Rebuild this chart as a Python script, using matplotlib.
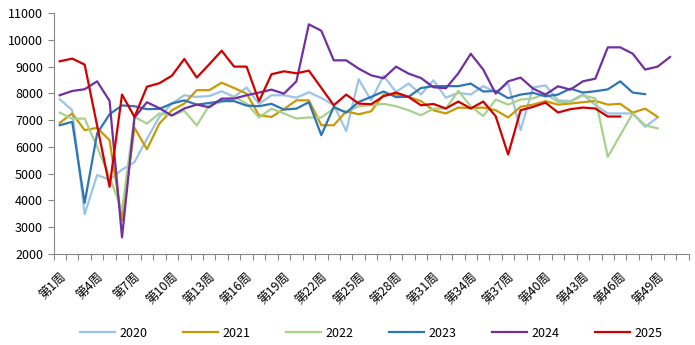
import numpy as np
import matplotlib
matplotlib.use("Agg")
import matplotlib.pyplot as plt

plt.rcParams['font.family'] = ['Noto Sans CJK SC', 'DejaVu Sans']

weeks = ["第%d周" % i for i in range(1, 52)]

y2020 = [7780, 7370, 3480, 4950, 4780, 5150, 5430, 6300, 7120, 7620,
         7930, 7870, 7900, 8080, 7870, 8220, 7600, 7930, 7930, 7840,
         8040, 7830, 7560, 6590, 8530, 7740, 8660, 8050, 8370, 7960,
         8490, 7840, 8020, 7960, 8270, 8050, 8370, 6630, 8220, 8300,
         7740, 7710, 7960, 7560, 7250, 7250, 7250, 6750, 7100]
y2021 = [6900, 7250, 6625, 6710, 6250, 3250, 6715, 5910, 6870, 7370,
         7620, 8120, 8120, 8400, 8200, 7990, 7180, 7120, 7410, 7740,
         7740, 6810, 6810, 7330, 7220, 7330, 7955, 7955, 7870, 7710,
         7370, 7250, 7470, 7450, 7470, 7370, 7100, 7500, 7580, 7710,
         7580, 7620, 7670, 7720, 7580, 7610, 7280, 7430, 7120]
y2022 = [7280, 7050, 7060, 6000, 4860, 3640, 7120, 6870, 7250, 7180,
         7350, 6800, 7550, 7680, 7870, 7620, 7100, 7430, 7250, 7060,
         7100, 7100, 7430, 7310, 7520, 7560, 7610, 7520, 7370, 7180,
         7430, 7430, 8090, 7520, 7150, 7770, 7580, 7770, 7810, 7990,
         7680, 7680, 7930, 7810, 5630, 6440, 7250, 6810, 6690]
y2023 = [6810, 6935, 3910, 6500, 7220, 7550, 7520, 7410, 7420, 7620,
         7740, 7580, 7640, 7710, 7710, 7545, 7520, 7610, 7395, 7430,
         7670, 6440, 7495, 7280, 7680, 7870, 8070, 7860, 7870, 8200,
         8270, 8270, 8270, 8365, 8070, 8090, 7820, 7955, 8020, 7890,
         7955, 8180, 8030, 8080, 8150, 8450, 8030, 7970]
y2024 = [7930, 8090, 8155, 8450, 7720, 2620, 7100, 7670, 7445, 7170,
         7435, 7580, 7480, 7805, 7805, 7930, 8030, 8140, 7990, 8450,
         10580, 10340, 9235, 9235, 8925, 8675, 8565, 9000, 8740, 8575,
         8230, 8190, 8750, 9480, 8890, 7990, 8450, 8590, 8180, 7955,
         8265, 8140, 8450, 8550, 9720, 9720, 9485, 8890, 9000, 9360]
y2025 = [9200, 9300, 9075, 6800, 4510, 7955, 7120, 8250, 8380, 8660,
         9285, 8590, 9085, 9595, 9000, 9000, 7705, 8715, 8825, 8750,
         8850, 8205, 7555, 7955, 7620, 7595, 7895, 8030, 7870, 7555,
         7605, 7435, 7695, 7435, 7695, 7145, 5715, 7370, 7495, 7655,
         7285, 7410, 7470, 7435, 7135, 7135]

series = [("2020", y2020, "#9DC3E6"),
          ("2021", y2021, "#C99A06"),
          ("2022", y2022, "#A9D18E"),
          ("2023", y2023, "#2E75B6"),
          ("2024", y2024, "#7030A0"),
          ("2025", y2025, "#D00000")]

fig = plt.figure(figsize=(6.95, 3.45), dpi=100)
ax = fig.add_axes([0.077, 0.264, 0.914, 0.698])

for name, vals, color in series:
    x = np.arange(len(vals))
    ax.plot(x, vals, "-", color=color, linewidth=1.6, label=name)

ax.set_xlim(-0.5, len(weeks) - 0.5)
ax.set_ylim(2000, 11000)
ax.set_yticks(np.arange(2000, 11001, 1000))

# label every third week, tick marks between every category
pos = np.arange(0, len(weeks), 3)
ax.set_xticks(pos)
ax.set_xticklabels([weeks[i] for i in pos], rotation=45, ha="right",
                   rotation_mode="anchor", fontsize=9)
ax.set_xticks(np.arange(-0.5, len(weeks)), minor=True)
ax.tick_params(axis="x", which="major", length=0, pad=12)
ax.tick_params(axis="x", which="minor", length=4, color="#878787", width=0.8)
ax.tick_params(axis="y", length=4, color="#878787", width=0.8, labelsize=9)

for s in ["top", "right"]:
    ax.spines[s].set_visible(False)
for s in ["left", "bottom"]:
    ax.spines[s].set_color("#878787")
    ax.spines[s].set_linewidth(0.8)

ax.legend(loc="upper center", bbox_to_anchor=(0.5, -0.255), ncol=6,
          frameon=False, fontsize=9, handlelength=2.8, handletextpad=0.3,
          columnspacing=2.9)

plt.savefig("out.png")
